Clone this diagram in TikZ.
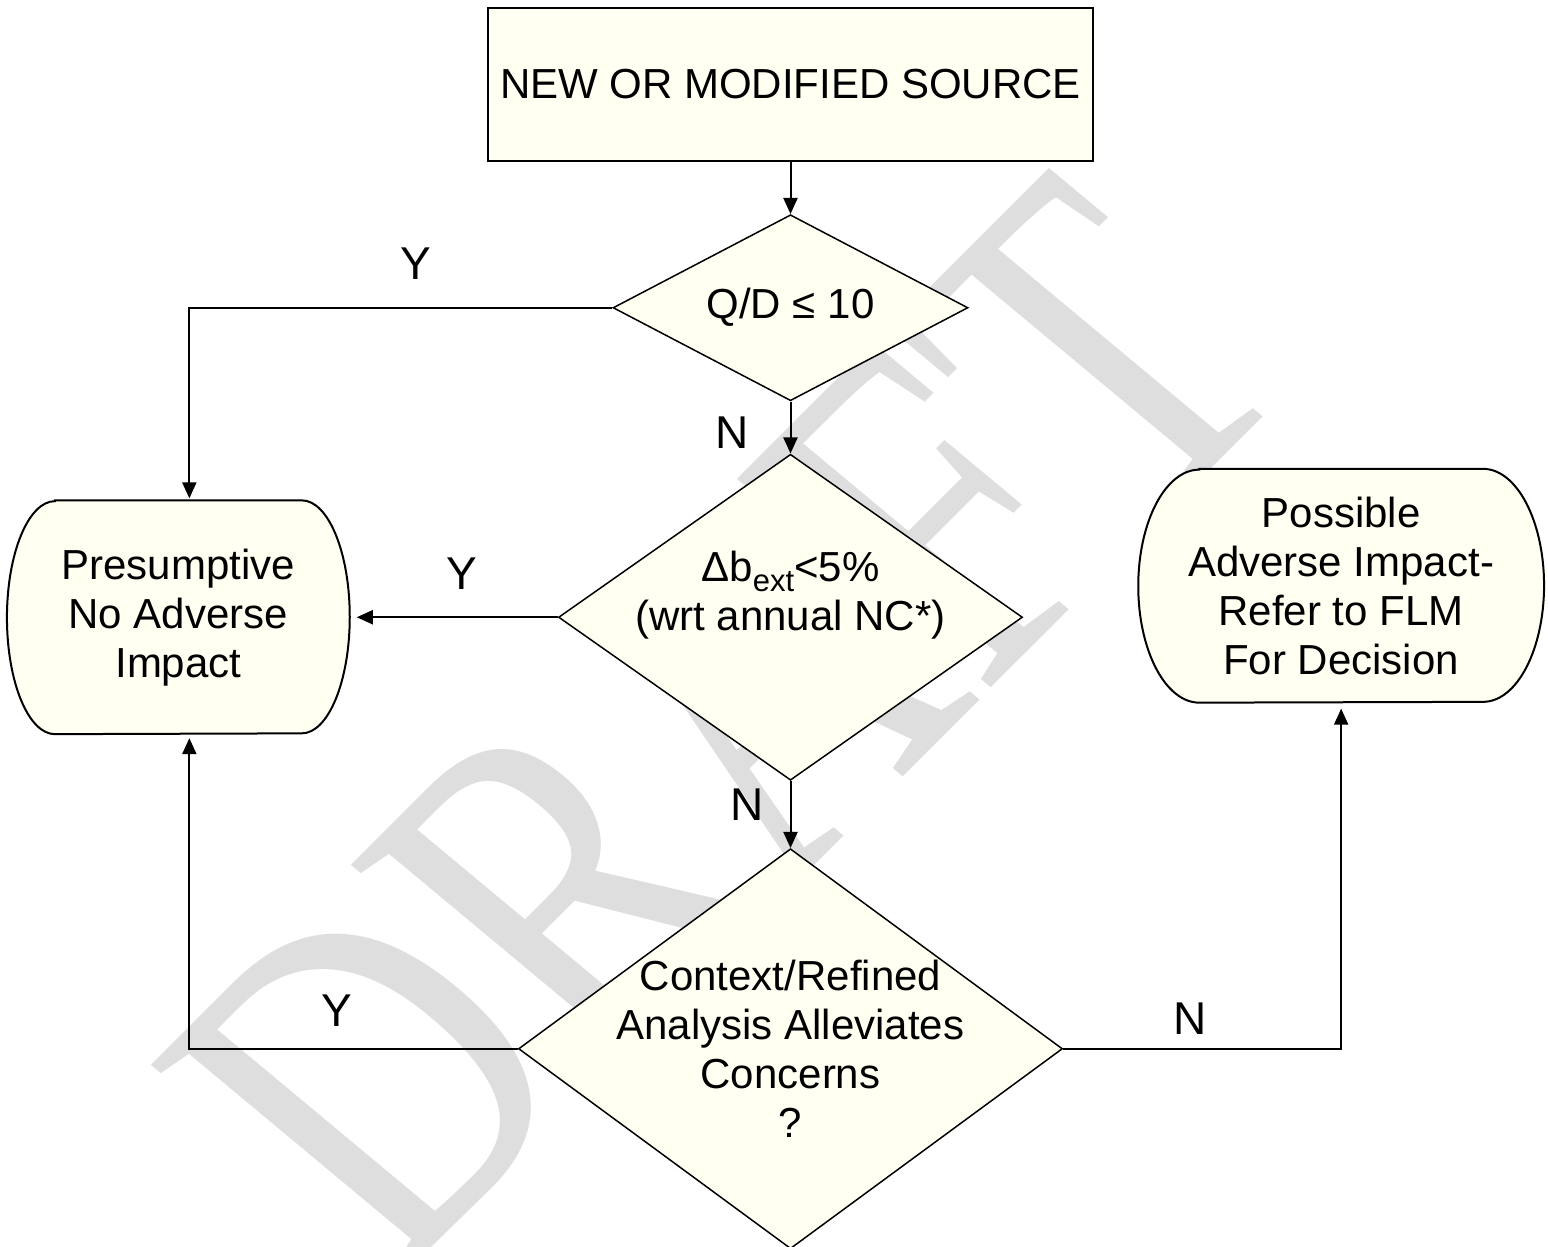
\documentclass[tikz,border=0pt]{standalone}
\usepackage{graphicx}
\usepackage{fontspec}
\setmainfont{Liberation Sans}
\newfontfamily\wmfont{Liberation Serif}
\usetikzlibrary{positioning,shapes.geometric,arrows.meta}
\definecolor{boxfill}{RGB}{255,255,242}
\definecolor{wmgray}{RGB}{222,222,222}
\pgfdeclarelayer{wmlayer}
\pgfdeclarelayer{back}
\pgfsetlayers{wmlayer,back,main}

\begin{document}
\begin{tikzpicture}[x=0.5pt,y=-0.5pt,
  every node/.style={font=\fontsize{21}{24.5}\selectfont},
  srcbox/.style={draw, line width=1pt, fill=boxfill, minimum width=302.5pt, minimum height=76.5pt},
  decision/.style={draw, diamond, line width=0.75pt, fill=boxfill, inner sep=0pt},
  endbox/.style={align=center, minimum height=116.5pt},
  sidebox/.style={line width=1pt, fill=boxfill},
  yn/.style={font=\fontsize{23}{23}\selectfont},
  arrowline/.style={line width=1pt, -{Triangle[width=7pt,length=8pt]}},
  wmark/.style={text=wmgray, inner sep=0pt, font=\wmfont\fontsize{238}{238}\selectfont}]
\useasboundingbox (0,0) rectangle (1548,1247);

% watermark
\begin{pgfonlayer}{wmlayer}
\begin{scope}[shift={(724,723)}, xscale=1.096]
\node[wmark, rotate=47.6, transform shape] (wm) at (0,0) {\scalebox{0.79}[1]{DRAFT}};
\end{scope}
\end{pgfonlayer}

% boxes
\node[srcbox] (src) at (790.5,84.5) {NEW OR MODIFIED SOURCE};
\node[decision, minimum width=177.5pt, minimum height=93pt] (qd) [below=26pt of src] {};
\node (qdtext) at (qd) {Q/D ≤ 10};
\node[decision, minimum width=232pt, minimum height=163pt] (dext) [below=26pt of qd] {};
\node[align=center] (dexttext) at ([yshift=11pt]dext) {Δb\raisebox{-5pt}{\fontsize{15.5}{15.5}\selectfont ext}<5\%\\(wrt annual NC*)};
\node[decision, minimum width=272pt, minimum height=200pt] (ctx) [below=33.5pt of dext] {};
\node[align=center] (ctxtext) at (ctx) {Context/Refined\\Analysis Alleviates\\Concerns\\?};
\node[endbox, minimum width=171pt] (pres) [left=104pt of dext] {Presumptive\\No Adverse\\Impact};
\node[endbox, minimum width=202.5pt] (poss) [right=57.5pt of dext, yshift=15.75pt] {Possible\\Adverse Impact-\\Refer to FLM\\For Decision};

% end box outlines
\begin{pgfonlayer}{back}
\draw[sidebox] ([xshift=24pt]pres.north west) -- ([xshift=-24pt]pres.north east)
  arc[start angle=90, end angle=-90, x radius=24pt, y radius=58.25pt]
  -- ([xshift=24pt]pres.south west)
  arc[start angle=270, end angle=90, x radius=24pt, y radius=58.25pt] -- cycle;
\draw[sidebox] ([xshift=30.5pt]poss.north west) -- ([xshift=-30.5pt]poss.north east)
  arc[start angle=90, end angle=-90, x radius=30.5pt, y radius=58.25pt]
  -- ([xshift=30.5pt]poss.south west)
  arc[start angle=270, end angle=90, x radius=30.5pt, y radius=58.25pt] -- cycle;
\end{pgfonlayer}

% connectors
\draw[arrowline] (src) -- (qd);
\draw[arrowline, shorten >=1pt] (qd.west) -| ([xshift=5.5pt]pres.north);
\draw[arrowline] (qd) -- (dext);
\draw[arrowline, shorten >=3.5pt] (dext) -- (pres);
\draw[arrowline] (dext) -- (ctx);
\draw[arrowline, shorten >=2pt] (ctx.west) -| ([xshift=5.5pt]pres.south);
\draw[arrowline, shorten >=3pt] (ctx.east) -| (poss.south);

% answers
\node[yn] (y1) at (416,264) {Y};
\node[yn] (y2) at (462,574) {Y};
\node[yn] (y3) at (337,1011) {Y};
\node[yn] (n1) at (732,433) {N};
\node[yn] (n2) at (747,805) {N};
\node[yn] (n3) at (1190,1019) {N};
\end{tikzpicture}
\end{document}
